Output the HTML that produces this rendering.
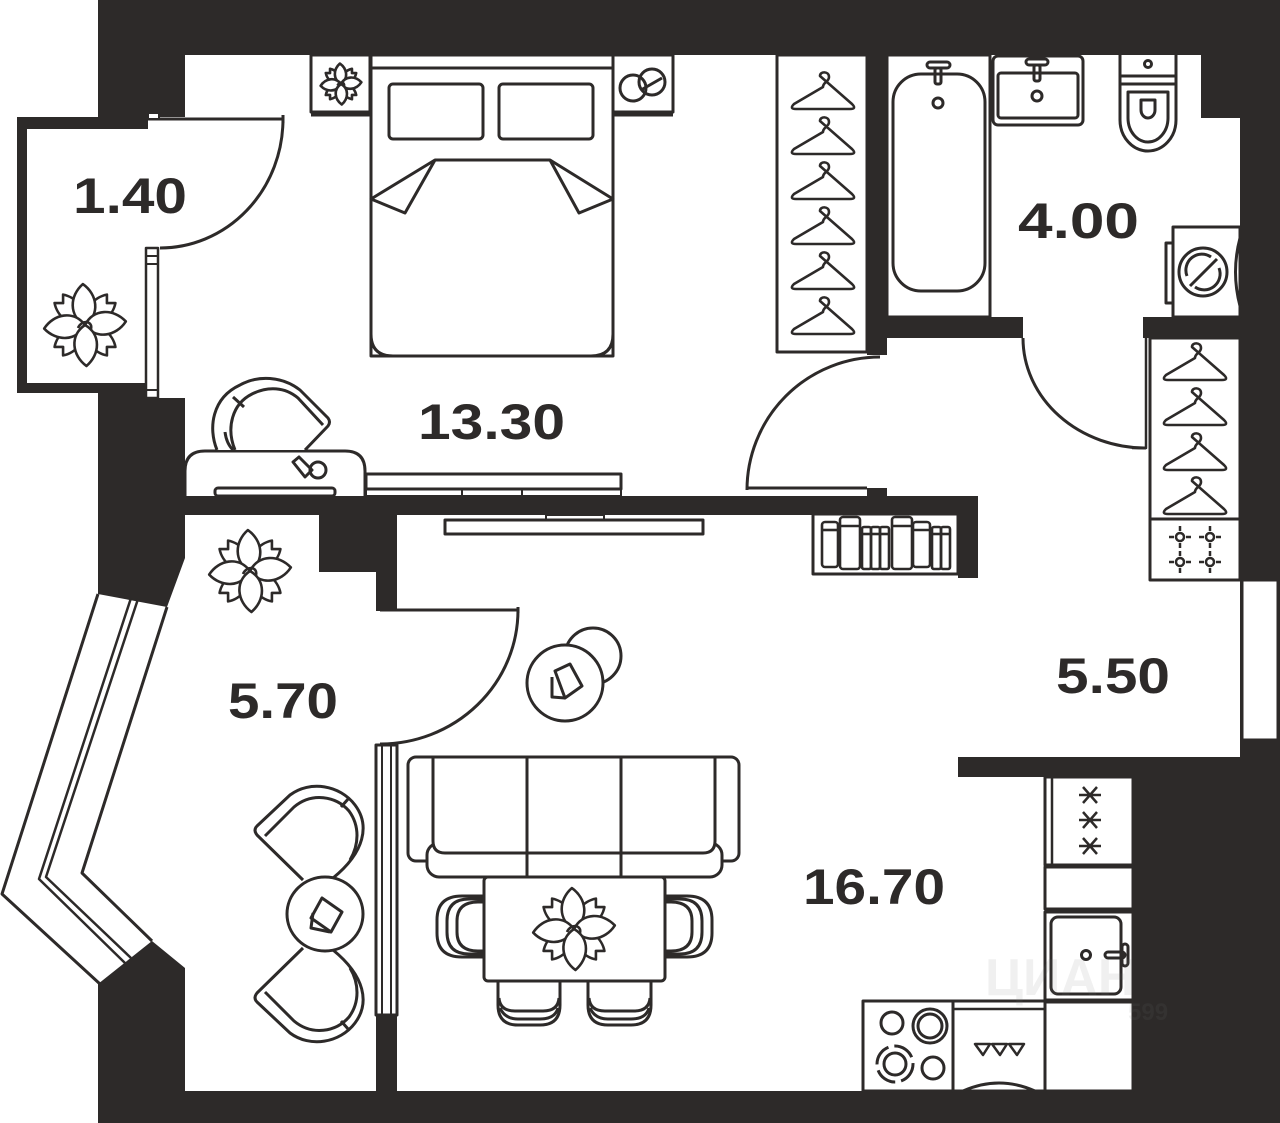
<!DOCTYPE html>
<html><head><meta charset="utf-8"><style>
html,body{margin:0;padding:0;background:#fff;}
svg{display:block}
.t{font-family:"Liberation Sans",Arial,sans-serif;font-weight:bold;font-size:50px;fill:#2d2a29}
</style></head><body>
<svg width="1280" height="1123" viewBox="0 0 1280 1123" xmlns="http://www.w3.org/2000/svg">
<defs>
 <g id="fl" fill="#fff" stroke="#2d2a29" stroke-width="2.6" stroke-linejoin="round">
  <path transform="rotate(45)" d="M0,0 C-13,-8 -13,-27 -6,-37 L0,-31 L6,-37 C13,-27 13,-8 0,0Z" vector-effect="non-scaling-stroke"/>
  <path transform="rotate(135)" d="M0,0 C-13,-8 -13,-27 -6,-37 L0,-31 L6,-37 C13,-27 13,-8 0,0Z" vector-effect="non-scaling-stroke"/>
  <path transform="rotate(225)" d="M0,0 C-13,-8 -13,-27 -6,-37 L0,-31 L6,-37 C13,-27 13,-8 0,0Z" vector-effect="non-scaling-stroke"/>
  <path transform="rotate(315)" d="M0,0 C-13,-8 -13,-27 -6,-37 L0,-31 L6,-37 C13,-27 13,-8 0,0Z" vector-effect="non-scaling-stroke"/>
  <path transform="rotate(-3)" d="M0,0 C-16,-10 -14,-30 0,-41 C14,-30 16,-10 0,0Z" vector-effect="non-scaling-stroke"/>
  <path transform="rotate(85)" d="M0,0 C-16,-10 -14,-30 0,-41 C14,-30 16,-10 0,0Z" vector-effect="non-scaling-stroke"/>
  <path transform="rotate(265)" d="M0,0 C-16,-10 -14,-30 0,-41 C14,-30 16,-10 0,0Z" vector-effect="non-scaling-stroke"/>
  <path transform="rotate(178)" d="M0,0 C-16,-10 -14,-30 0,-41 C14,-30 16,-10 0,0Z" vector-effect="non-scaling-stroke"/>
  <path d="M-7,3 C-3,-6 8,-4 6,4" fill="none" vector-effect="non-scaling-stroke"/>
 </g>
 <g id="hg" fill="none" stroke="#2d2a29" stroke-width="2.6" stroke-linejoin="round" stroke-linecap="round">
  <path d="M-3,4 C-3,-1 6,-1 6,5 C6,10 0,10 0,15 L-29,32 Q-34,37 -27,37 L27,37 Q34,37 29,32 Z"/>
 </g>
 <g id="lt" stroke="#2d2a29" stroke-width="2.5" fill="none">
  <circle r="4"/><path d="M-11,0H-6M6,0H11M0,-11V-6M0,6V11"/>
 </g>
</defs>

<!-- WALLS -->
<g fill="#2d2a29">
 <rect x="98" y="0" width="1182" height="55"/>
 <rect x="98" y="0" width="87" height="117"/>
 <path d="M17,117 H148 V129 H27 V383 H145 V393 H17 Z"/>
 <path d="M98,393 H145 V398 H185 V558 L167,607 L98,594 Z"/>
 <path d="M98,984 L152,941 L185,968 V1123 H98 Z"/>
 <rect x="98" y="1091" width="1182" height="32"/>
 <rect x="185" y="496" width="793" height="19"/>
 <rect x="958" y="496" width="20" height="82"/>
 <rect x="867" y="488" width="20" height="8"/>
 <rect x="319" y="515" width="78" height="57"/>
 <rect x="376" y="515" width="21" height="96"/>
 <rect x="376" y="1015" width="21" height="76"/>
 <rect x="867" y="55" width="20" height="300"/>
 <rect x="887" y="317" width="136" height="21"/>
 <rect x="1143" y="317" width="97" height="21"/>
 <rect x="1240" y="0" width="40" height="1123"/>
 <rect x="1201" y="55" width="39" height="63"/>
 <rect x="958" y="757" width="282" height="20"/>
 <rect x="1133" y="777" width="147" height="346"/>
</g>
<rect x="1242" y="580" width="36" height="160" fill="#fff" stroke="#2d2a29" stroke-width="3"/>

<g fill="none" stroke="#2d2a29" stroke-width="3" stroke-linejoin="round">
 <!-- bay window -->
 <polyline points="98,594 2,894 100,984"/>
 <polyline points="167,607 82,873 152,941"/>
 <polyline points="131,598 39,879 125,963" stroke-width="2.5"/>
 <polyline points="138,599 46,877 131,958" stroke-width="2.5"/>

 <!-- balcony door & window -->
 <path d="M148,119 H283 M283,115 V123"/>
 <path d="M283,119 A123 129 0 0 1 160,248"/>
 <rect x="148" y="113" width="11" height="6" fill="#fff" stroke-width="2"/>
 <rect x="146" y="248" width="12" height="150" fill="#fff" stroke-width="2.5"/>
 <path d="M146,256 H158 M146,264 H158 M146,390 H158" stroke-width="2"/>

 <!-- bedroom -->
 <rect x="311" y="55" width="59" height="57"/>
 <path d="M311,115 H370"/>
 <rect x="371" y="55" width="242" height="301" fill="#fff"/>
 <path d="M371,68 H613"/>
 <rect x="389" y="84" width="94" height="55" rx="4"/>
 <rect x="499" y="84" width="94" height="55" rx="4"/>
 <path d="M371,199 V334 Q371,356 393,356 H591 Q613,356 613,334 V199"/>
 <path d="M435,160 H550"/>
 <path d="M435,160 L371,199 L405,213 Z" fill="#fff"/>
 <path d="M550,160 L613,199 L579,213 Z" fill="#fff"/>
 <rect x="613" y="55" width="60" height="57"/>
 <path d="M613,115 H673"/>
 <circle cx="633" cy="88" r="13"/>
 <circle cx="652" cy="82" r="13"/>
 <path d="M641,90 L662,78"/>
 <rect x="777" y="55" width="90" height="297"/>
 <path d="M880,357 A133 133 0 0 0 747,490"/>
 <path d="M747,488 H867"/>
 <rect x="366" y="474" width="255" height="15"/>
 <rect x="366" y="489" width="255" height="7" stroke-width="2"/>
 <path d="M462,489 V496 M522,489 V496" stroke-width="2"/>
 <!-- desk -->
 <path d="M185,496 V471 Q185,451 205,451 H345 Q365,451 365,471 V496" fill="#fff"/>
 <rect x="215" y="488" width="120" height="8" rx="3"/>
 <!-- desk chair -->
 <path d="M217,450 C208,428 212,398 240,385 C258,375 282,376 300,390 L328,418 Q331,422 328,426 L305,450" fill="#fff"/>
 <path d="M235,450 C226,428 232,404 252,394 C268,386 285,387 298,398 L323,425"/>
 <path d="M233,397 L244,407"/>
 <path d="M225,432 C226,440 229,446 233,450"/>
 <circle cx="318" cy="470" r="8"/>
 <path d="M293,462 L299,457 L312,470 L305,477 Z"/>

 <!-- living TV -->
 <rect x="445" y="520" width="258" height="14"/>
 <rect x="546" y="515" width="58" height="5" stroke-width="2"/>
 <!-- bookshelf -->
 <rect x="813" y="514" width="145" height="60"/>
 <g stroke-width="2.6">
  <rect x="822" y="522" width="16" height="45" rx="3"/><path d="M822,530 H838"/>
  <rect x="840" y="517" width="20" height="52" rx="3"/><path d="M840,526 H860"/>
  <rect x="862" y="527" width="9" height="42" rx="2"/><path d="M862,534 H871"/>
  <rect x="871" y="527" width="9" height="42" rx="2"/><path d="M871,534 H880"/>
  <rect x="880" y="527" width="9" height="42" rx="2"/><path d="M880,534 H889"/>
  <rect x="892" y="517" width="20" height="52" rx="3"/><path d="M892,526 H912"/>
  <rect x="913" y="522" width="17" height="45" rx="3"/><path d="M913,530 H930"/>
  <rect x="932" y="527" width="9" height="42" rx="2"/><path d="M932,534 H941"/>
  <rect x="941" y="527" width="9" height="42" rx="2"/><path d="M941,534 H950"/>
 </g>

 <!-- bathroom -->
 <rect x="887" y="55" width="103" height="262"/>
 <rect x="893" y="74" width="92" height="217" rx="28"/>
 <rect x="927" y="62" width="23" height="6" rx="3"/>
 <rect x="935" y="68" width="6" height="16" rx="2"/>
 <circle cx="938" cy="103" r="5"/>
 <rect x="993" y="56" width="90" height="69" rx="5"/>
 <rect x="998" y="73" width="80" height="45" rx="3"/>
 <rect x="1026" y="59" width="22" height="6" rx="3"/>
 <rect x="1034" y="65" width="6" height="16" rx="2"/>
 <circle cx="1037" cy="96" r="5"/>
 <path d="M1120,55 V84 H1176 V55"/>
 <path d="M1120,76 H1176"/>
 <circle cx="1148" cy="64" r="3.5"/>
 <path d="M1120,84 V120 A28 31 0 0 0 1176,120 V84"/>
 <path d="M1128,92 V118 A20 24 0 0 0 1168,118 V92 Z"/>
 <path d="M1141,100 V110 A7 8 0 0 0 1155,110 V100 Z"/>
 <!-- washer -->
 <rect x="1173" y="227" width="67" height="90"/>
 <rect x="1166" y="243" width="7" height="60"/>
 <circle cx="1203" cy="272" r="24"/>
 <path d="M1190,286 L1217,259"/>
 <path d="M1187,276 A16 16 0 0 1 1211,257"/>
 <path d="M1219,268 A16 16 0 0 1 1195,287"/>
 <path d="M1240,238 Q1231,272 1240,306"/>
 <!-- bath door -->
 <path d="M1023,338 A123 110 0 0 0 1146,448"/>
 <path d="M1146,338 V448 H1132" stroke-width="2.5"/>
 <!-- hall wardrobe -->
 <rect x="1150" y="338" width="90" height="242"/>
 <path d="M1150,519 H1240"/>

 <!-- hall door -->
 <path d="M380,610 H518 M518,607 V613"/>
 <path d="M518,610 A138 134 0 0 1 380,744"/>
 <rect x="376" y="745" width="21" height="270"/>
 <path d="M382,745 V1015 M391,745 V1015" stroke-width="2"/>

 <!-- 5.70 chairs and table -->
 <g id="ch">
  <path d="M303,880 L257,835 Q253,830 257,826 L290,795 C310,780 340,785 355,805 C370,825 365,852 333,878" fill="#fff"/>
  <path d="M265,836 L294,807 C312,792 336,796 349,811 C360,826 359,845 350,860"/>
  <path d="M349,798 L341,807"/>
 </g>
 <g transform="translate(0,1828) scale(1,-1)">
  <path d="M303,880 L257,835 Q253,830 257,826 L290,795 C310,780 340,785 355,805 C370,825 365,852 333,878" fill="#fff"/>
  <path d="M265,836 L294,807 C312,792 336,796 349,811 C360,826 359,845 350,860"/>
  <path d="M349,798 L341,807"/>
 </g>
 <ellipse cx="325" cy="914" rx="38" ry="37" fill="#fff"/>
 <path d="M322,898 L342,912 L331,932 L311,918 Z"/>
 <path d="M313,913 L311,928 L330,932"/>

 <!-- coffee tables -->
 <circle cx="593" cy="656" r="28" fill="#fff"/>
 <circle cx="565" cy="683" r="38" fill="#fff"/>
 <path d="M555,671 L570,664 L582,686 L565,698 Z"/>
 <path d="M552,677 L552,697 L565,698"/>

 <!-- sofa -->
 <rect x="408" y="757" width="32" height="104" rx="8" fill="#fff"/>
 <rect x="707" y="757" width="32" height="104" rx="8" fill="#fff"/>
 <rect x="427" y="843" width="295" height="34" rx="12" fill="#fff"/>
 <path d="M433,757 H715 V841 Q715,853 703,853 H445 Q433,853 433,841 Z" fill="#fff"/>
 <path d="M527,757 V877 M621,757 V877"/>
 <!-- dining -->
 <g id="dc">
  <path d="M484,896 H462 Q437,896 437,920 V933 Q437,957 462,957 H484" fill="#fff"/>
  <path d="M484,899 H469 Q447,899 447,921 V932 Q447,954 469,954 H484"/>
  <path d="M484,902 H478 Q457,902 457,921 V932 Q457,951 478,951 H484"/>
 </g>
 <g transform="translate(1149,0) scale(-1,1)">
  <path d="M484,896 H462 Q437,896 437,920 V933 Q437,957 462,957 H484" fill="#fff"/>
  <path d="M484,899 H469 Q447,899 447,921 V932 Q447,954 469,954 H484"/>
  <path d="M484,902 H478 Q457,902 457,921 V932 Q457,951 478,951 H484"/>
 </g>
 <g>
  <path d="M498,981 V1005 Q498,1025 518,1025 H540 Q560,1025 560,1005 V981" fill="#fff"/>
  <path d="M499,998 Q500,1011 515,1011 H543 Q558,1011 559,998"/>
  <path d="M500,1008 Q505,1019 518,1019 H540 Q555,1019 558,1008"/>
 </g>
 <g>
  <path d="M588,981 V1005 Q588,1025 608,1025 H631 Q651,1025 651,1005 V981" fill="#fff"/>
  <path d="M589,998 Q590,1011 605,1011 H634 Q649,1011 650,998"/>
  <path d="M590,1008 Q595,1019 608,1019 H631 Q646,1019 649,1008"/>
 </g>
 <rect x="484" y="877" width="181" height="104" rx="4" fill="#fff"/>

 <!-- kitchen -->
 <rect x="1045" y="777" width="88" height="88"/>
 <path d="M1052,777 V865" stroke-width="2.5"/>
 <rect x="1045" y="867" width="88" height="42"/>
 <rect x="1045" y="912" width="88" height="88"/>
 <rect x="1045" y="1002" width="88" height="89"/>
 <rect x="1051" y="917" width="70" height="77" rx="7"/>
 <circle cx="1086" cy="955" r="4.5"/>
 <rect x="1105" y="952" width="20" height="6" rx="3"/>
 <rect x="1122" y="944" width="6" height="22" rx="3"/>
 <path d="M1079,795 H1101 M1083,787 L1097,803 M1097,787 L1083,803" stroke-width="2.5"/>
 <path d="M1079,820 H1101 M1083,812 L1097,828 M1097,812 L1083,828" stroke-width="2.5"/>
 <path d="M1079,846 H1101 M1083,838 L1097,854 M1097,838 L1083,854" stroke-width="2.5"/>
 <rect x="863" y="1001" width="90" height="90"/>
 <rect x="953" y="1001" width="92" height="90"/>
 <path d="M953,1009 H1045" stroke-width="2.5"/>
 <circle cx="892" cy="1023" r="11"/>
 <circle cx="930" cy="1026" r="17"/>
 <circle cx="930" cy="1026" r="12"/>
 <circle cx="895" cy="1064" r="11"/>
 <circle cx="895" cy="1064" r="18" stroke-dasharray="22 6"/>
 <circle cx="933" cy="1068" r="11"/>
 <path d="M975,1044 H990 L983,1055 Z M992,1044 H1007 L1000,1055 Z M1009,1044 H1024 L1017,1055 Z" stroke-width="2.5"/>
 <path d="M963,1091 Q999,1075 1035,1091"/>
</g>

<!-- hangers -->
<use href="#hg" transform="translate(823,72)"/>
<use href="#hg" transform="translate(823,117)"/>
<use href="#hg" transform="translate(823,162)"/>
<use href="#hg" transform="translate(823,207)"/>
<use href="#hg" transform="translate(823,252)"/>
<use href="#hg" transform="translate(823,297)"/>
<use href="#hg" transform="translate(1195,343)"/>
<use href="#hg" transform="translate(1195,388)"/>
<use href="#hg" transform="translate(1195,433)"/>
<use href="#hg" transform="translate(1195,477)"/>
<!-- lights -->
<use href="#lt" transform="translate(1180,537)"/>
<use href="#lt" transform="translate(1210,537)"/>
<use href="#lt" transform="translate(1180,562)"/>
<use href="#lt" transform="translate(1210,562)"/>

<!-- flowers -->
<use href="#fl" transform="translate(85,325)"/>
<use href="#fl" transform="translate(341,84) scale(0.5)"/>
<use href="#fl" transform="translate(250,571)"/>
<use href="#fl" transform="translate(574,929)"/>

<!-- labels -->
<text class="t" x="73" y="213" textLength="114" lengthAdjust="spacingAndGlyphs">1.40</text>
<text class="t" x="418" y="439" textLength="147" lengthAdjust="spacingAndGlyphs">13.30</text>
<text class="t" x="1018" y="238" textLength="121" lengthAdjust="spacingAndGlyphs">4.00</text>
<text class="t" x="228" y="718" textLength="110" lengthAdjust="spacingAndGlyphs">5.70</text>
<text class="t" x="1056" y="693" textLength="114" lengthAdjust="spacingAndGlyphs">5.50</text>
<text class="t" x="803" y="904" textLength="142" lengthAdjust="spacingAndGlyphs">16.70</text>

<!-- watermark -->
<g opacity="0.1" fill="#777" font-family="Liberation Sans, sans-serif" font-weight="bold">
 <text x="985" y="995" font-size="52">ЦИАН</text>
 <text x="1128" y="1020" font-size="24">599</text>
</g>
</svg>
</body></html>
